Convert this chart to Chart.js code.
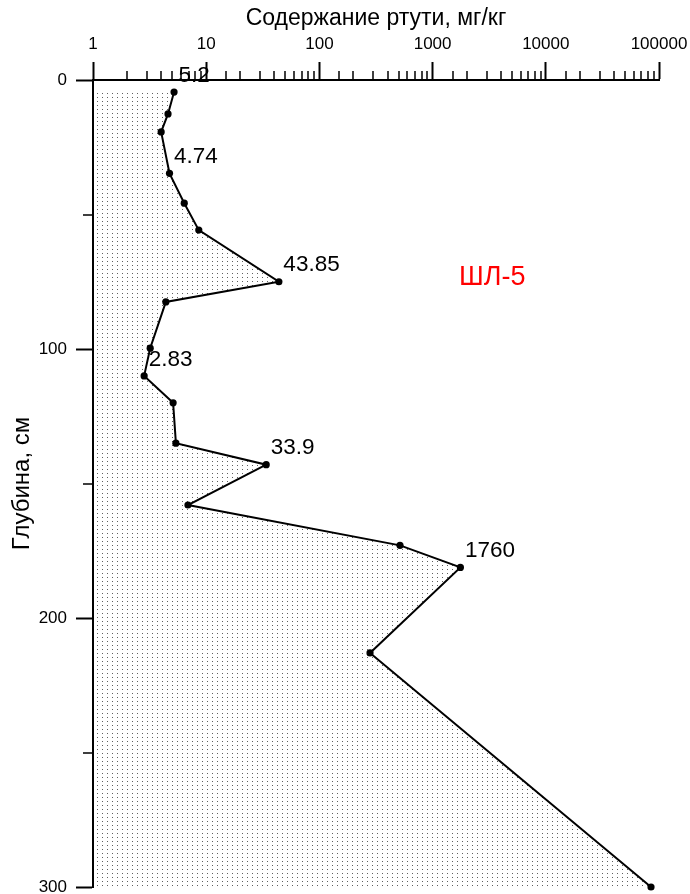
<!DOCTYPE html>
<html><head><meta charset="utf-8">
<script src="https://cdn.jsdelivr.net/npm/chart.js@4.4.1/dist/chart.umd.min.js"></script>
<style>html,body{margin:0;padding:0;background:#fff;overflow:hidden;}#wrap{width:690px;height:894px;position:relative;}</style>
</head><body><div id="wrap"><canvas id="c"></canvas></div>
<script>
// Data
const depths  = [4.5, 12.6, 19.3, 34.7, 45.8, 55.8, 75, 82.5, 99.7, 110, 120, 135, 143, 158, 173, 181.2, 213, 300];
const mercury = [5.2, 4.6, 4.0, 4.74, 6.4, 8.6, 43.85, 4.4, 3.2, 2.83, 5.1, 5.4, 33.9, 6.9, 515, 1760, 280, 85000];
const labeledIdx = [0, 3, 6, 9, 12, 15];
const labelText  = ['5.2', '4.74', '43.85', '2.83', '33.9', '1760'];
const xTickLabels = [1, 10, 100, 1000, 10000, 100000];
const yTickLabels = [0, 100, 200, 300];
const xTitle = 'Содержание ртути, мг/кг';
const yTitle = 'Глубина, см';
const siteName = 'ШЛ-5';
const siteAt = {x: 1711, y: 73.6};

const FONT = '"Liberation Sans", Arial, sans-serif';

// dotted fill pattern
const pc = document.createElement('canvas');
pc.width = 5; pc.height = 4;
const pctx = pc.getContext('2d');
pctx.fillStyle = '#606060';
pctx.fillRect(2, 1, 1, 1);
const pattern = pctx.createPattern(pc, 'repeat');

const isMajorX = v => xTickLabels.some(t => Math.abs(t - v) < 1e-6 * t);
const isMajorY = v => yTickLabels.includes(v);

const extras = {
  id: 'extras',
  afterDraw(chart) {
    const ctx = chart.ctx;
    const xs = chart.scales.x, ys = chart.scales.y;
    const ca = chart.chartArea;
    ctx.save();
    // minor ticks
    ctx.strokeStyle = '#000';
    ctx.lineWidth = 1.5;
    ctx.beginPath();
    xs.ticks.forEach(t => {
      if (!isMajorX(t.value)) {
        const px = Math.round(xs.getPixelForValue(t.value));
        ctx.moveTo(px, ca.top);
        ctx.lineTo(px, ca.top - 9);
      }
    });
    ys.ticks.forEach(t => {
      if (!isMajorY(t.value)) {
        const py = Math.round(ys.getPixelForValue(t.value));
        ctx.moveTo(ca.left, py);
        ctx.lineTo(ca.left - 10, py);
      }
    });
    ctx.stroke();
    // data labels
    const meta = chart.getDatasetMeta(0);
    ctx.font = '22.5px ' + FONT;
    ctx.fillStyle = '#000';
    ctx.textAlign = 'left';
    ctx.textBaseline = 'middle';
    labeledIdx.forEach((i, k) => {
      const p = meta.data[i];
      ctx.fillText(labelText[k], p.x + 4.5, p.y - 16.5);
    });
    ctx.font = '27px ' + FONT;
    ctx.fillStyle = '#ff0000';
    ctx.fillText(siteName, xs.getPixelForValue(siteAt.x), ys.getPixelForValue(siteAt.y));
    ctx.restore();
  }
};

new Chart(document.getElementById('c'), {
  type: 'line',
  data: {
    datasets: [{
      data: depths.map((d, i) => ({x: mercury[i], y: d})),
      borderColor: '#000',
      borderWidth: 2,
      pointRadius: 3.6,
      pointBackgroundColor: '#000',
      pointBorderColor: '#000',
      pointBorderWidth: 0,
      backgroundColor: pattern,
      fill: 'start',
      tension: 0,
      clip: false
    }]
  },
  options: {
    indexAxis: 'y',
    responsive: true,
    maintainAspectRatio: false,
    animation: false,
    events: [],
    layout: {padding: {left: 0, top: 0, right: 31, bottom: 7}},
    plugins: {legend: {display: false}, tooltip: {enabled: false}},
    scales: {
      x: {
        type: 'logarithmic',
        position: 'top',
        min: 1, max: 100000,
        afterFit: s => { s.height = 80; s.paddingLeft = 0; s.paddingRight = 0; },
        border: {display: true, color: '#000', width: 2},
        grid: {
          drawOnChartArea: false, drawTicks: true, tickLength: 18,
          tickColor: c => isMajorX(c.tick.value) ? '#000' : 'rgba(0,0,0,0)',
          tickWidth: 2
        },
        ticks: {
          autoSkip: false, maxRotation: 0, padding: 7,
          color: '#000', font: {family: FONT, size: 17},
          callback: v => isMajorX(v) ? String(xTickLabels.find(t => Math.abs(t - v) < 1e-6 * t)) : ''
        },
        title: {display: true, text: xTitle, color: '#000', font: {family: FONT, size: 23}, padding: {top: 5, bottom: 0}}
      },
      y: {
        type: 'linear',
        reverse: true,
        min: 0, max: 300,
        afterFit: s => { s.width = 93; s.paddingTop = 0; s.paddingBottom = 0; },
        border: {display: true, color: '#000', width: 2},
        grid: {
          drawOnChartArea: false, drawTicks: true, tickLength: 17,
          tickColor: c => isMajorY(c.tick.value) ? '#000' : 'rgba(0,0,0,0)',
          tickWidth: 2
        },
        ticks: {
          stepSize: 50, autoSkip: false, padding: 9,
          color: '#000', font: {family: FONT, size: 17},
          callback: v => isMajorY(v) ? String(v) : ''
        },
        title: {display: true, text: yTitle, color: '#000', font: {family: FONT, size: 24}, padding: {top: 8, bottom: 0}}
      }
    }
  },
  plugins: [extras]
});
</script></body></html>
